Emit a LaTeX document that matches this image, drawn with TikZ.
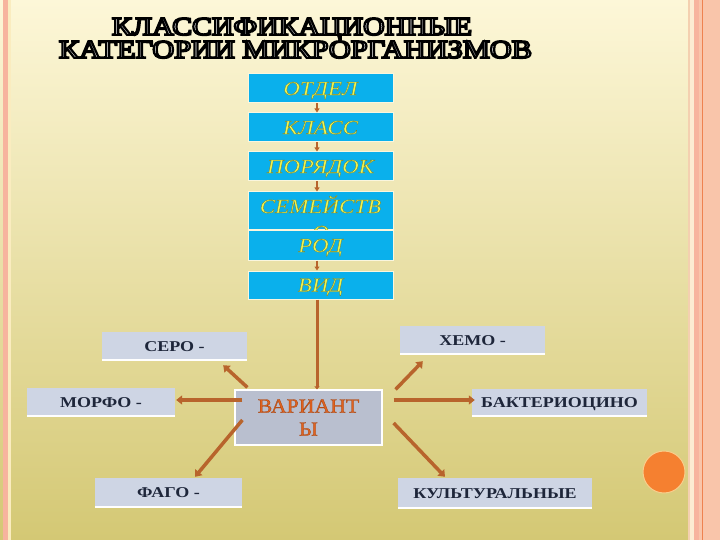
\documentclass[tikz,border=0pt]{standalone}
\usepackage{fontspec}
\setmainfont{Liberation Serif}
\usetikzlibrary{arrows.meta,calc}
\definecolor{bgtop}{RGB}{253,247,216}
\definecolor{bgmid}{RGB}{248,236,162}
\definecolor{bgbot}{RGB}{212,200,116}
\definecolor{salmon}{RGB}{249,197,170}
\definecolor{salmonline}{RGB}{247,180,158}
\definecolor{peach}{RGB}{244,208,176}
\definecolor{creamline}{RGB}{252,236,210}
\definecolor{orangeline}{RGB}{238,130,80}
\definecolor{boxblue}{RGB}{10,176,236}
\definecolor{boxedge}{RGB}{250,246,222}
\definecolor{yel}{RGB}{236,244,84}
\definecolor{labfill}{RGB}{206,213,228}
\definecolor{navy}{RGB}{30,38,58}
\definecolor{varfill}{RGB}{185,191,207}
\definecolor{vartext}{RGB}{224,98,32}
\definecolor{arrbrown}{RGB}{184,100,44}
\definecolor{circfill}{RGB}{245,128,48}
\definecolor{circedge}{RGB}{248,205,140}
% outlined text: fill in current colour, stroke given (rgb, width)
\newcommand\olt[3]{\special{pdf:literal direct 2 Tr #2 w #1 RG}#3\special{pdf:literal direct 0 Tr}}
\newcommand\bt[1]{\scalebox{1.15}[1]{\olt{0.45 0.48 0.15}{0.25}{#1}}}
\newcommand\lt[1]{\scalebox{1.2}[1]{#1}}
\newcommand\vt[1]{\scalebox{1.09}[1]{\olt{0.62 0.25 0.05}{0.25}{#1}}}
\newcommand\ttl[3]{{\color{white}\resizebox{#1}{#2}{\olt{0 0 0}{0.75}{#3}}}}
\begin{document}
\begin{tikzpicture}[x=1pt,y=-1pt,
  bluebox/.style={fill=boxblue, draw=boxedge, line width=1pt, minimum width=145pt,
    minimum height=29pt, inner sep=0pt, font=\fontsize{20}{24}\selectfont\itshape,
    text=yel, text height=13.2pt, text depth=0pt},
  lab/.style={fill=labfill, minimum height=28pt, inner sep=0pt,
    font=\fontsize{15}{18}\selectfont\bfseries, text=navy, text height=10pt, text depth=0pt},
  varbox/.style={fill=varfill, draw=white, line width=1.2pt, minimum width=147pt,
    minimum height=55pt, inner sep=0pt, align=center,
    font=\fontsize{20}{23}\selectfont, text=vartext},
  smallarr/.style={draw=arrbrown, line width=1.6pt, -{Triangle[width=5pt,length=4pt]}},
  midarr/.style={draw=arrbrown, line width=3pt, -{Triangle[width=5pt,length=3pt]}},
  bigarr/.style={draw=arrbrown, line width=3.5pt, -{Triangle[width=9pt,length=6pt]}}
]
\useasboundingbox (0,0) rectangle (720,540);
% background
\shade[top color=bgtop, middle color=bgmid, bottom color=bgbot] (0,0) rectangle (720,540);
\fill[salmonline] (3,0) rectangle (8,540);
\fill[creamline!60!bgmid] (8,0) rectangle (11,540);
\fill[salmon] (688,0) rectangle (720,540);
\fill[peach] (688,0) rectangle (690,540);
\fill[creamline] (690,0) rectangle (693.5,540);
\fill[salmonline] (694,0) rectangle (699,540);
\fill[orangeline] (701.5,0) rectangle (702.7,540);
\fill[circfill, draw=circedge, line width=1pt] (664,472) circle (21);

% title
\node[anchor=base, inner sep=0pt] (title1) at (292,35) {\ttl{360pt}{17pt}{КЛАССИФИКАЦИОННЫЕ}};
\node[anchor=base, inner sep=0pt] (title2) at (295.5,58) {\ttl{473pt}{17pt}{КАТЕГОРИИ МИКРОРГАНИЗМОВ}};

% hierarchy boxes
\node[bluebox] (otd) at (320.5,88.5) {\bt{ОТДЕЛ}};
\node[bluebox] (kla) at (320.5,127.5) {\bt{КЛАСС}};
\node[bluebox] (por) at (320.5,166.5) {\bt{ПОРЯДОК}};
\node[bluebox, minimum height=38pt, text height=21pt, text depth=17pt] (sem) at (320.5,211) {\bt{СЕМЕЙСТВ}};
\node[anchor=base, inner sep=0pt, font=\fontsize{20}{24}\selectfont\itshape, text=yel] (semo) at (320.5,239) {\bt{О}};
\node[bluebox] (rod) at (320.5,245.5) {\bt{РОД}};
\node[bluebox, minimum height=28pt] (vid) at (320.5,285) {\bt{ВИД}};

\draw[smallarr] ([xshift=-3.5pt]otd.south) -- ([xshift=-3.5pt]kla.north);
\draw[smallarr] ([xshift=-3.5pt]kla.south) -- ([xshift=-3.5pt]por.north);
\draw[smallarr] ([xshift=-3.5pt]por.south) -- ([xshift=-3.5pt]sem.north);
\draw[smallarr] ([xshift=-3.5pt]rod.south) -- ([xshift=-3.5pt]vid.north);

% variants
\node[varbox] (var) at (308.5,417.5) {\vt{ВАРИАНТ}\\\vt{Ы}};
\draw[midarr] ([xshift=-3.5pt]vid.south) -- ([xshift=8.5pt]var.north);

% labels
\node[lab, minimum width=145pt] (sero) at (174.5,346) {\lt{СЕРО -}};
\node[lab, minimum width=148pt] (morfo) at (101,402) {\lt{МОРФО -}};
\node[lab, minimum width=147pt, minimum height=29pt] (fago) at (168.5,492.5) {\lt{ФАГО -}};
\node[lab, minimum width=145pt] (hemo) at (472.5,340) {\lt{ХЕМО -}};
\node[lab, minimum width=175pt, minimum height=27pt] (bakt) at (559.5,402.5) {\lt{БАКТЕРИОЦИНО}};
\node[lab, minimum width=194pt, minimum height=30pt] (kult) at (495,493) {\lt{КУЛЬТУРАЛЬНЫЕ}};
\foreach \n in {sero,morfo,fago,hemo,bakt,kult}
  \draw[white, line width=2.5pt] (\n.south west) -- (\n.south east);

% arrows from variants
\draw[bigarr] ($(var.north west)+(13,-2)$) -- ($(sero.south east)+(-24,5)$);
\draw[bigarr] ($(var.west)+(8,-17.5)$) -- ($(morfo.east)+(1,-2)$);
\draw[bigarr] ($(var.west)+(8,2.5)$) -- ($(fago.north)+(26.5,-1)$);
\draw[bigarr] ($(var.north east)+(13,0)$) -- ($(hemo.south west)+(23,7)$);
\draw[bigarr] ($(var.east)+(11,-17.5)$) -- ($(bakt.west)+(3,-2.5)$);
\draw[bigarr] ($(var.east)+(11,5.5)$) -- ($(kult.north)+(-50,-1)$);
\end{tikzpicture}
\end{document}
